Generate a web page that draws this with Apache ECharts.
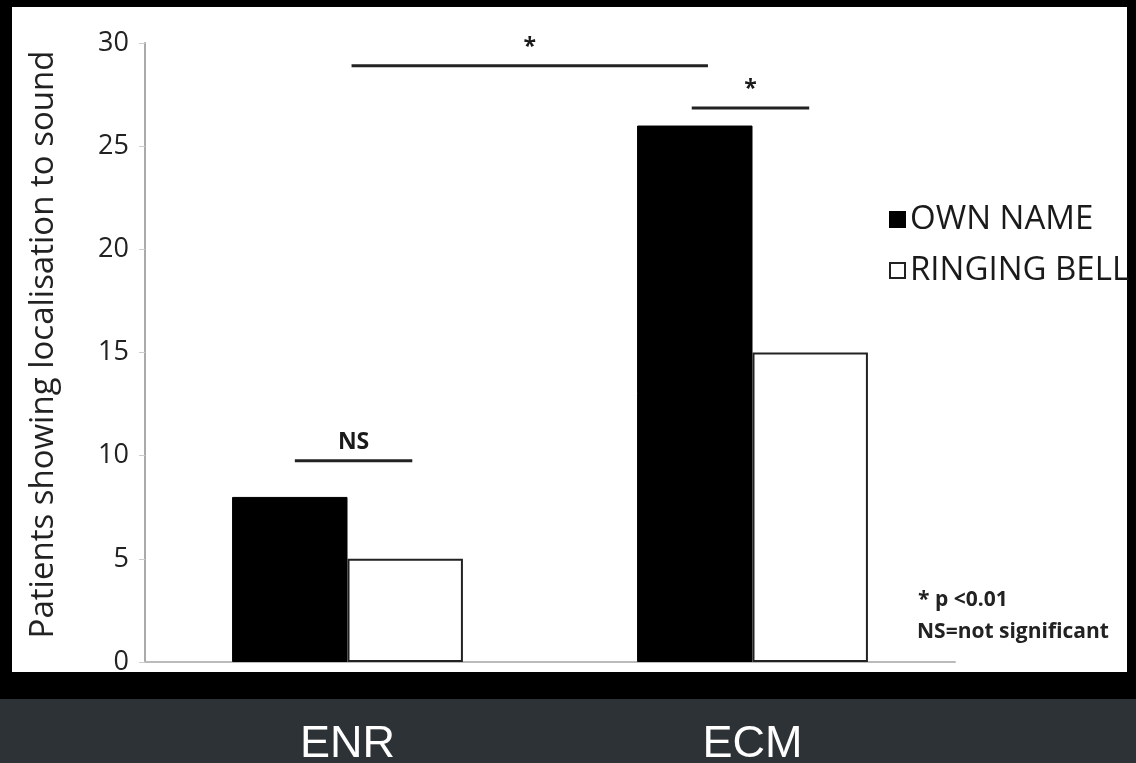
<!DOCTYPE html>
<html>
<head>
<meta charset="utf-8">
<script src="https://cdn.jsdelivr.net/npm/echarts@6/dist/echarts.min.js"></script>
<style>
  html, body { margin: 0; padding: 0; background: #000; }
  #chart { width: 1136px; height: 763px; }
</style>
</head>
<body>
<div id="chart"></div>
<script>
// values
const categories = ['ENR', 'ECM'];
const ownName = [8, 26];
const ringingBell = [5, 15];
const yMin = 0;
const yMax = 30;
const yStep = 5;

// significance brackets: [x from, x to, y] on a 0..2 helper axis (category centres at 0.5 / 1.5)
const bracketSpans = [
  [0.51, 1.39, 28.9],
  [1.35, 1.64, 26.85],
  [0.37, 0.66, 9.75]
];
const bracketLabels = ['*', '*', 'NS'];

const textFont = '"Open Sans", "DejaVu Sans", sans-serif';

const bracketSeries = bracketSpans.map(function (s) {
  return {
    type: 'line',
    xAxisIndex: 1,
    silent: true,
    symbol: 'none',
    lineStyle: { color: '#222', width: 3 },
    data: [[s[0], s[2]], [s[1], s[2]]],
    z: 5
  };
});

const labelSeries = {
  type: 'scatter',
  xAxisIndex: 1,
  silent: true,
  symbolSize: 2,
  itemStyle: { color: 'rgba(0,0,0,0)', opacity: 1 },
  label: {
    show: true,
    position: 'top',
    distance: 6,
    formatter: function (p) { return p.name; },
    color: '#1a1a1a',
    opacity: 1,
    fontFamily: textFont,
    fontWeight: 'bold',
    fontSize: 23
  },
  data: bracketSpans.map(function (s, i) {
    return { name: bracketLabels[i], value: [(s[0] + s[1]) / 2, s[2]] };
  }),
  z: 6
};

const chart = echarts.init(document.getElementById('chart'));
const option = {
  backgroundColor: '#000',
  animation: false,
  graphic: [
    { type: 'rect', z: -100, shape: { x: 12, y: 7, width: 1115, height: 665 }, style: { fill: '#fff' } },
    { type: 'rect', z: -100, shape: { x: 0, y: 699, width: 1136, height: 64 }, style: { fill: '#2d3236' } },
    { type: 'text', left: 918, top: 590, style: { text: '* p <0.01', font: 'bold 21px ' + textFont, fill: '#222' } },
    { type: 'text', left: 917, top: 622, style: { text: 'NS=not significant', font: 'bold 21px ' + textFont, fill: '#222' } }
  ],
  legend: {
    orient: 'vertical',
    left: 884,
    top: 198,
    icon: 'rect',
    itemWidth: 15,
    itemHeight: 15,
    itemGap: 18,
    textStyle: { color: '#1a1a1a', fontFamily: textFont, fontSize: 33 },
    data: ['OWN NAME', 'RINGING BELL']
  },
  grid: { left: 145, right: 181, top: 43, bottom: 101, outerBoundsMode: 'none' },
  xAxis: [
    {
      type: 'category',
      data: categories,
      axisLine: { lineStyle: { color: '#bbb', width: 2 } },
      axisTick: { show: false },
      axisLabel: {
        color: '#fff',
        fontFamily: '"Liberation Sans", Arial, sans-serif',
        fontSize: 45,
        margin: 60
      }
    },
    { type: 'value', min: 0, max: 2, show: false }
  ],
  yAxis: {
    type: 'value',
    min: yMin,
    max: yMax,
    interval: yStep,
    name: 'Patients showing localisation to sound',
    nameLocation: 'middle',
    nameGap: 85,
    nameTextStyle: { color: '#222', fontFamily: textFont, fontSize: 33, padding: [0, 0, 0, 16] },
    axisLine: { show: true, lineStyle: { color: '#aaa', width: 2 } },
    axisTick: { show: true, length: 6, lineStyle: { color: '#ccc' } },
    splitLine: { show: false },
    axisLabel: { color: '#222', fontFamily: textFont, fontSize: 27, margin: 16 }
  },
  series: [
    {
      name: 'OWN NAME',
      type: 'bar',
      data: ownName,
      barGap: '0%',
      barCategoryGap: '43%',
      itemStyle: { color: '#000', borderColor: '#000', borderWidth: 1 }
    },
    {
      name: 'RINGING BELL',
      type: 'bar',
      data: ringingBell,
      itemStyle: { color: '#fff', borderColor: '#222', borderWidth: 2 }
    }
  ].concat(bracketSeries, [labelSeries])
};
chart.setOption(option);
</script>
</body>
</html>
